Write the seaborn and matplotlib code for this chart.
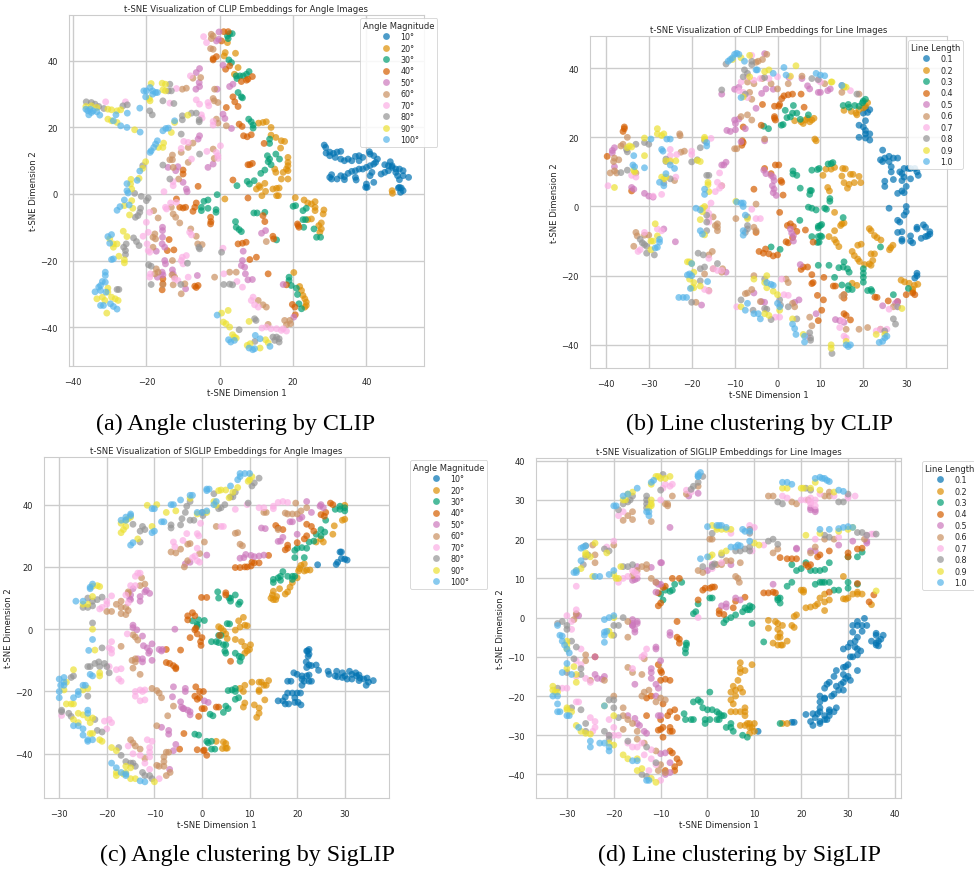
# t-SNE scatter panels
import matplotlib
matplotlib.use('Agg')

import pandas as pd
import seaborn as sns
import matplotlib.pyplot as plt

angle_labels = ['10°', '20°', '30°', '40°', '50°', '60°', '70°', '80°', '90°', '100°']
line_labels = ['0.1', '0.2', '0.3', '0.4', '0.5', '0.6', '0.7', '0.8', '0.9', '1.0']

# (a) CLIP angle
a_10 = [(28.5,14.7),(28.9,14),(29,12.3),(30,12.6),(31,12.2),(32,12.6),(33,12.8),(30,11.5),(31.5,11),(33,10.5),(34,10),(35,10.5),(36,10),(37,11.3),(38,11.5),(39,11),(38,10),(40.8,12.7),(41,12),(42,11.5),(43,10.5),(42.5,9.5),(42,9),(41,8.5),(40,8),(39,7.5),(38,7.5),(37,7),(36,6.8),(35,6.2),(37,5),(37.2,4.2),(33,5.5),(34,5.2),(32,4.5),(30,5),(30.5,5.8),(30.5,4.5),(34,4.3),(39.8,2),(40,3),(40.2,2),(42,3.5),(41,5.5),(41.5,6.5),(44,6),(45,6.5),(46,7),(45,8.8),(46,8.5),(47,8.5),(46.5,9.7),(47,8),(48,7.5),(49,7.5),(50,7),(48,6.5),(48.5,5.5),(50,5.5),(51.5,5),(49,4.3),(48.7,1.8),(49.5,1.8),(50,1),(49.3,0.5),(49,2)]
a_20 = [(2.1,45.5),(1.5,42.5),(1.2,41.5),(4.3,42.3),(5,38),(4,36),(10.6,21.3),(11.8,21.5),(12.7,21.7),(14,20),(14,17.7),(15.3,17),(16.8,16),(17.7,15.8),(16.6,13.8),(18.6,11),(18.6,9.5),(18.6,8.5),(18.2,7.5),(17.3,6.5),(18.6,7),(16.8,4.5),(18.6,4.5),(15,7.5),(15.3,6.5),(12.3,3.2),(10.7,2.5),(10,1.5),(11,2),(12.5,0.8),(11.5,-0.5),(14.5,1.5),(15.5,1.7),(16.2,1.8),(15.5,-0.5),(16,-0.5),(1.4,-1.5),(20.6,-1.1),(23,-1.8),(24,-2.7),(25,-3),(26,-2.3),(26,-4),(26,-5),(28.4,-4.8),(28.2,-6),(27.7,-8.7),(27,-9.5),(27.7,-10.5),(27.3,-11.5),(25,-7.5),(24,-7.7),(21.8,-27.8),(22.3,-29),(22.7,-30.5),(23.2,-31.5),(23.6,-32.5),(23.6,-33.5),(23.2,-34),(20.2,-23.6),(47,1),(47.1,0.2)]
a_30 = [(2.7,48.2),(2.1,47.5),(3.4,48.2),(2.3,46.7),(2.5,40.3),(3.2,39.5),(4.5,35.5),(4.7,34.7),(5.5,35.5),(6.4,35.5),(7.3,36),(8,36.8),(5,30.5),(5.9,29.2),(6.2,28.9),(7.9,22.5),(8.6,21.7),(9.1,20.7),(9.1,19.8),(13.6,16.5),(13.6,15.2),(13,11.5),(13.6,10.5),(13.2,9.7),(14,8.8),(15.3,12),(16.3,10.5),(12.3,7.2),(11.2,6.2),(4.7,2.5),(7.5,3.8),(8.1,3),(9.4,4),(-0.7,-0.2),(-3.2,-1.8),(-4.3,-2.2),(-5,-4),(-5,-5),(-3.2,-4.3),(-1,-4.7),(-1,-5.5),(4.3,-8.3),(4.5,-10),(5.3,-10.7),(5.9,-11.3),(9.3,-5.7),(10.2,-5.7),(12.3,-5.5),(15.5,-13.8),(20,-3.7),(20.7,-3.5),(22.7,-5),(23.6,-4.3),(22.7,-7.7),(23.4,-7.7),(22.9,-10),(25.7,-10.5),(26.4,-13),(27.5,-13),(18.9,-25),(18.9,-26),(19.5,-27.5),(20.9,-28.3),(21.2,-30.2),(21.6,-33),(22.3,-34.5)]
a_40 = [(1.1,48.8),(2.3,48.8),(0.5,46),(-1.8,40.3),(-0.9,41.3),(-1.8,40.7),(1.6,37.5),(2.7,38.5),(5.9,33.8),(7.3,34.2),(8.9,35.3),(7.7,34.5),(3.6,29.2),(4.1,27.7),(5,26.3),(1.8,26),(5.3,21),(6.1,20.3),(6.5,17.5),(7.5,17.2),(8.6,17.8),(12.1,15.2),(7.7,8.8),(8.2,8.8),(8.9,9.2),(3.6,4.2),(-5.9,2.3),(-10,7.2),(-10,6),(-10.9,-4),(-10,-4.2),(-9.3,-4),(-11.8,-1.5),(-7.3,-5.2),(-6.8,-4),(-6.4,-2.7),(-2.5,-7),(-2.5,-9),(-2.4,-8.3),(7.7,-1.2),(11.8,-6.5),(12.3,-8.3),(14.5,-12.7),(14.7,-13.5),(5,-15),(6.2,-14.8),(7.2,-14.5),(-13.8,-13.7),(-14.3,-17),(-12.5,-16.8),(8.2,-19.7),(10,-19),(13.2,-24),(-15.5,-25.5),(-15.5,-27),(-15.7,-28.8),(-6.8,-27.7),(-5.9,-27.5),(-6.4,-28.1),(18.2,-27.3),(19.8,-33.2),(20.5,-34),(20.6,-36.3),(21.4,-9.5),(21.2,-9),(21.6,-10)]
a_50 = [(-0.2,48.7),(-0.9,46),(-0.3,46.5),(-5.5,37.7),(-6.4,36.5),(-5.6,33.5),(-5.5,32.3),(-6.5,31.5),(-0.7,31.5),(0.9,38.7),(2.7,32.3),(3.6,33),(0.9,24),(1.4,22.7),(3.2,19.7),(-5.5,17.5),(-5.9,16.5),(-14.1,8),(-11.4,8.2),(-12,7),(-10,3.5),(-9.1,1.5),(-8.9,0.7),(-1.8,9),(-3.2,8),(-15.6,-10),(-15.6,-11),(-15.6,-13),(-15.7,-15),(-15,-16),(-17.3,-17.2),(-15,-20),(-14.8,-21),(-15.7,-23.5),(-15.5,-24.3),(-12.9,-22.8),(-12.7,-24),(-6.1,-24.5),(-9.3,-28.5),(6.4,-17.2),(6.2,-20),(5.9,-21.5),(6.8,-22),(7,-24),(7.7,-25.8),(8.9,-25.7),(11.4,-11.8),(12.5,-11),(17.3,-27.2),(20.2,-37),(-17,-25)]
a_60 = [(-2.3,48),(-1.8,47.5),(-2.3,46.7),(-2.5,43.7),(-1.8,43.5),(-1.4,31.5),(-1.8,28.7),(-1.5,28),(-0.5,27.5),(-10.2,31.5),(-9.1,31.8),(-7.3,34.8),(-5.2,35),(-0.9,22.5),(-0.5,21.3),(1.8,20.5),(-1.8,13.5),(-1.5,10.7),(-7.3,15.3),(-8.6,14),(-10.5,12.5),(-12.9,11.7),(-12.9,10.3),(-13.6,10.3),(-12.7,8),(-8.6,9.5),(-11.2,4.5),(-18,-5),(-16.8,-7.2),(-13.2,-4),(-12.7,-6),(-12,-7),(-10.9,-8.7),(-7.9,-10.5),(-6.4,-12.7),(-6,-15),(-4.8,-15.2),(-17.7,-12),(-18.2,-13),(-17.5,-13.5),(-18.2,-16),(-12.9,-20),(-17.3,-22.5),(-16.8,-23.5),(-17.7,-24),(-13,-24.3),(-12.3,-25),(-12.7,-27.3),(-9.5,-27),(-10.5,-30),(-15.5,-27.3),(-1.4,-25),(2.7,-23.5),(4.5,-23.5),(10.5,-32),(11.8,-33.3),(12.7,-34),(13.2,-39.2),(17.7,-38),(19.1,-38),(18.2,-39.3),(19.3,-39),(12.7,-14.3)]
a_70 = [(-4.4,47.3),(-3.6,45.5),(-8,35.5),(-6.4,28.3),(-5.5,27),(-3.2,27.5),(-3,26.5),(-31.1,27.7),(-25.7,27.7),(-11.8,31.7),(-13.6,27.3),(-5,23.8),(-4.8,22.8),(-1.8,21.8),(-1.8,20.7),(-9.8,15.8),(-8.6,15.5),(-10.5,13.7),(-7.7,10.5),(-3.5,12.8),(-0.9,12.5),(0.2,14.5),(-0.5,11.5),(-0.5,10.7),(-15.2,0.7),(-12.7,3.7),(-12.7,2.5),(-13.4,-2.7),(-14.8,-4),(-14.5,-4.5),(-11.8,-2.5),(-19.1,-5.5),(-20,-8.5),(-19.5,-11.5),(-20.9,-12.7),(-19.8,-15),(-19.5,-17),(-19.1,-17.5),(-8.2,-11.5),(-7.7,-12.3),(0.9,-16.3),(-10.2,-19),(-9.1,-18.5),(-10.5,-20),(-10,-21),(-18.9,-24),(-19.1,-25),(-12.3,-25.5),(-11.4,-26),(-8.6,-25),(1.1,-24),(4.7,-26.3),(6.2,-28),(9.1,-31),(8.6,-32),(9.5,-33.3),(10.5,-34),(11.5,-40.3),(12.7,-40),(14,-40.5),(15.5,-40.5),(16.8,-41),(18.2,-41.2),(17.3,-40.5)]
a_80 = [(-36.4,27.7),(-35,27.5),(-34,27),(-33,26.3),(-31.6,25.7),(-26.4,26.5),(-25.2,26.8),(-19.1,25),(-18.4,23.8),(-13.6,33),(-14,31),(-13.2,31),(-15.5,28),(-12.5,27.2),(-10.2,23.5),(-10.2,22.3),(-7.7,24.3),(-6.4,24.3),(-5.6,22.3),(-5.6,21.7),(-10.5,18),(-5.5,12),(-15.5,8.7),(-13.6,4.5),(-21,8.5),(-23.2,0.2),(-21.4,-0.7),(-19.5,-1.2),(-20,-2),(-21.6,-4.3),(-21.8,-5.5),(-23,-7),(-22.3,-6.5),(-23.5,-13.2),(-22.7,-14.3),(-22,-15.5),(-25.5,-15),(-26.2,-16),(-25.7,-17),(-25.7,-18.2),(-19.4,-21.3),(-18.7,-21.7),(-18.7,-27.2),(-8.8,-20.8),(-5.5,-16.5),(-5.7,-16),(0.5,-17.5),(1.1,-27.2),(2.7,-27.1),(3.5,-27.3),(-28,-28.7),(-27.5,-28.7),(5.3,-40.8),(9.5,-37.5),(9.9,-38),(9.6,-44.3),(14.5,-43),(15.5,-43),(16.2,-43.5),(15,-44),(16.2,-44.5),(-10.6,-27.2)]
a_90 = [(-18.7,33.2),(-15.7,33.3),(-14.8,33),(-15.5,31.3),(-14.8,31),(-19,28),(-19.2,28.7),(-36.5,26.3),(-35,26.5),(-33.5,26),(-30.5,25.5),(-29.5,25.3),(-28,25),(-27,25.3),(-30.5,22.5),(-29.5,22),(-28,21.5),(-23.2,19.3),(-13.2,18.5),(-12.3,21.5),(-8.7,23.7),(-16.7,14),(-15.5,14),(-15.3,15.3),(-20.2,9.7),(-21,7.7),(-24.2,4.4),(-24.3,3),(-24,1.5),(-22,4.7),(-26,-3.5),(-24,-2),(-23.7,-4.3),(-24.6,-6.3),(-26.3,-11.2),(-25.3,-12.8),(-30,-13.5),(-29,-15),(-28,-15),(-29,-16),(-27.5,-18.7),(-26,-19.8),(-26,-20.7),(-30.5,-28.3),(-30.5,-29.5),(-33.5,-31.5),(-32,-31),(-31.3,-32),(-29.5,-31),(-28.5,-31.5),(-27.7,-32),(-30.8,-35.8),(2.3,-35),(0.5,-35.8),(1,-38.5),(1.7,-39),(2.7,-40),(3.5,-42.3),(4,-43),(4.5,-43.3),(8,-38.3),(7.5,-45.5),(8.3,-45),(11,-46.3),(12.5,-43.8),(13.2,-44.7)]
a_100 = [(-20.7,31),(-20,31),(-19,32),(-18.3,31),(-17.5,30.5),(-20.2,29.2),(-18.3,30),(-17,30.5),(-36.5,25.5),(-36,25),(-35.3,25.5),(-35,24.5),(-34.5,25),(-33.5,24.7),(-32.7,23.7),(-35.7,23.8),(-28.3,23.8),(-25.2,24.3),(-21.8,25.8),(-29,22),(-27,20.5),(-25.3,20),(-21.7,18.6),(-15.5,19),(-14.7,19.7),(-14,19.8),(-12.3,22),(-17,16),(-17.5,15),(-18,14),(-18.7,13),(-19,12.5),(-21.8,6.9),(-22.5,4.1),(-25.3,3.1),(-25.3,1),(-25,0.3),(-26,-1.8),(-24.7,-3.3),(-27.2,-3.8),(-28,-4.9),(-30.5,-12.8),(-29.5,-12.2),(-30,-14.8),(-29.5,-19.7),(-29,-19.5),(-31.2,-23.5),(-31.2,-24.5),(-32,-26.3),(-31.2,-26.5),(-32.5,-27.5),(-33,-28),(-34,-29.4),(-32.5,-29),(-31,-29.5),(-32.5,-33.5),(-31.7,-33.5),(-29.8,-33),(-29,-33.8),(-28,-34.6),(-0.7,-36.4),(2.4,-43.8),(3,-44.5),(4,-44),(8,-46.3),(9,-46.8),(9.5,-46.5),(9.7,-42.5),(11,-43.5),(13.7,-45.8)]

# (b) CLIP line
b_10 = [(20.5,28.5),(21.5,28),(20,27),(21,27.2),(20.5,24.8),(19,23.5),(20,23),(20.5,22),(20.5,21),(21.5,21),(19,20),(20.5,19.8),(21.5,19.2),(24.5,16.3),(25,14),(24,13.5),(24.5,13),(26,14.5),(27,14),(28,14),(26,13),(26.5,11.5),(26.5,10),(28.5,10),(29,9.5),(29.5,11),(30.5,11),(31,11),(32,11),(32.5,10),(29.5,8.5),(31,8),(32.8,9),(29,7.5),(25,7.3),(25,5.8),(27,7.8),(30,5.8),(29,4.5),(28,3.8),(29.5,4),(26,-0.5),(30,0),(30,-1.5),(29.5,-2.5),(28,-4),(28.5,-4.5),(29,-7.3),(28,-7.5),(29,-9.5),(29,-10),(31,-8.5),(31,-10),(31.5,-10.5),(32.5,-6),(32.5,-6.5),(34,-5.3),(34.5,-6),(35.5,-7.3),(35.5,-8),(34.5,-8.7),(33.5,-9.2),(35,-8.5),(32.5,-20),(32.5,-19.3),(32,-20.7)]
b_20 = [(15.5,27.8),(17.2,27.5),(18.3,27),(18.5,26.5),(19,28),(20,28.5),(21,30),(20.5,29),(4,24.8),(5.5,24.5),(6,24),(6.5,25),(7,25.5),(7.5,24.5),(8,25),(8.5,25.5),(8.7,19.5),(9,19),(10.6,9),(11.3,10.8),(12.5,10.8),(13.3,11.3),(15.2,11),(15.8,10.9),(15,8.8),(17,9.3),(17.6,9.3),(19,8.7),(15.5,6.9),(16.7,6.4),(17.9,6.9),(19.4,6.9),(16.3,5.3),(11.7,5.5),(12.1,4.5),(13.3,-1.7),(15,-5),(14.7,-5.5),(15.5,-4.8),(13.3,-7),(13.3,-9.6),(13.7,-10.4),(14.3,-11.6),(12,-8.7),(18.7,-11.2),(19.5,-10.9),(21.4,-6.4),(21.8,-7),(22.6,-8.4),(23.2,-9),(24.1,-9.7),(26.1,-12.5),(26.4,-11.9),(26.9,-11.2),(17.4,-13),(17.9,-14.2),(18.7,-15.2),(19.1,-15.9),(20.3,-16.8),(21.4,-16.6),(21.8,-13.7),(22.6,-13.7),(22.2,-15.6),(21.8,-17),(28.8,-21.3),(29.6,-21.8),(30.7,-22.2),(31.9,-22.8),(32.7,-22.5),(31.5,-23.9),(17.4,-22.2),(18.5,-22.8),(31.5,-24.6)]
b_30 = [(15.3,29.2),(16.5,29.5),(16.7,28.7),(18,29.2),(19,29),(20,30.5),(20.5,31),(19.8,30),(1.8,27.8),(3.7,29.2),(2.2,25.7),(3,25.9),(3.5,27),(4.5,27),(5.3,25.2),(7.2,26.5),(1.3,23.7),(0.9,23.5),(-3.2,23.2),(-2.1,22.5),(11.8,12.3),(12.5,12.4),(12.9,12.7),(9.7,11),(9.3,10.7),(8,10.5),(3.6,10.3),(3.6,9.4),(4.5,9),(5.3,5.3),(7.6,4.6),(7.9,4.6),(7.5,3.5),(12.2,2.3),(12.2,1.5),(7.2,-0.2),(8,-0.5),(9,-1),(11,-0.5),(11.4,-0.8),(15.3,-3.2),(5.2,-4),(9.5,-5.7),(10,-5.5),(10.3,-5.2),(9.5,-6.2),(8,-8.7),(9.5,-8.7),(10,-8.5),(10.3,-8.7),(9.7,-10.3),(9.3,-10.4),(-1.5,-11.7),(0.6,-12.4),(9.5,-17),(12,-17),(14.3,-17.7),(15.3,-17.5),(15.5,-16),(16.3,-18),(16.7,-19),(20,-18),(20,-19.3),(20,-20.5),(20,-21.9),(13.3,-20.5),(15,-22.7),(16.5,-22.9),(16.5,-24),(17.4,-24),(21,-24.3),(21.8,-24),(22,-24.5),(27,-25.5),(30.5,-23.7),(24,-11.7)]
b_40 = [(-35.7,23),(-35.7,22.5),(-36,21.7),(-39.7,14.5),(-34,4.5),(-5.5,5),(0.3,29),(-0.7,29),(0.5,29.5),(-3.5,29.5),(1,31.2),(1.5,32),(2.5,32.3),(3.5,32.5),(5.5,32.5),(6.2,28.7),(-0.7,25.5),(-0.5,25),(-0.7,26),(-3.8,23.5),(-8,23),(-8.2,19),(-8,18.5),(-8.3,17.7),(-0.5,12),(0.3,12),(-3,11),(-1.5,9.5),(0.8,7.5),(1,7),(1.3,3.3),(0.5,-1.7),(-5,-7.5),(2.3,-5.5),(3,-5),(3.7,-5.8),(6.5,-6.8),(4.5,-7.2),(2,-10.2),(2.5,-10.5),(3.5,-9),(8.3,-10.3),(-4.3,-13),(-2.8,-12.3),(-3.3,-13.5),(-2,-13.7),(-1,-14.3),(0,-14),(6,-17.5),(7,-17.5),(5.5,-18.2),(8,-19.7),(8.3,-22),(8,-22.3),(10.8,-20.5),(13,-23),(13.5,-23),(9.3,-25.7),(10.7,-27),(10.3,-30),(15.5,-31),(16,-31.5),(17,-32.8),(9.5,-33),(15.5,-25.5),(15.5,-26.5),(23.2,-26.3),(22.7,-26.2),(25.8,-27.3),(28,-27.5),(30,-25.5),(31.5,-25),(32,-25.5)]
b_50 = [(-3,44.2),(-9,34.5),(-10,33.9),(-13,32.5),(-1,33.9),(-3.7,32.7),(-2.7,34),(2.7,37.3),(5.7,37),(7,34.9),(7.5,34),(9.5,33),(10,33),(11.7,33.5),(12.3,34),(-5,28.4),(-10,25),(-9,25.3),(-9.8,24),(-11.8,22),(-11,21.7),(-9.8,22.2),(-7.5,22.5),(-8.5,18.7),(-3,19),(-3.2,10.5),(-2.7,9.5),(-1.5,9),(-1,8.5),(-0.8,7.5),(-1.2,6),(-0.8,5),(-1,4),(-0.3,3.2),(-13,12),(-12.5,12),(-12,12.8),(-38.5,16.2),(-38,17),(-38.5,15.5),(-38,11.5),(-34,5.5),(-33.5,5),(-31,3.8),(-30,3),(-29,2.7),(-23.8,-10.2),(-26.5,-6.5),(3,-6.5),(3.3,-7.7),(3.7,-8.5),(3.7,-10),(5.3,-16.8),(5,-27),(9,-31),(13.5,-32.7),(14.5,-33),(15.5,-33.5),(-5.5,-25),(-3.7,-27.5),(4,-27.7),(27.5,-28),(28,-27.5),(24.5,-28.7),(-17.7,-28.5),(-12,-19),(-3,-27.7)]
b_60 = [(-2.5,44),(-3.5,42.5),(-4.5,42),(-5,41.7),(-5.5,35.5),(-3.5,37),(-7,36),(-1.5,35.5),(0,34),(2.5,35.5),(5.7,37.7),(11,35.5),(15,33),(15.5,34.5),(19,32.5),(-6.5,33),(-6,31),(-8.5,26),(-7,26.5),(-6,25),(-3,19.5),(-9.5,16.7),(-10,16.7),(-22.8,21),(-22.7,20.5),(-21.7,16),(-22.5,15.7),(-38,14),(-38.2,13),(-37,13.5),(-36,18),(-36.5,17.5),(-35,20),(-39,9.7),(-38,10.3),(-37.5,9.7),(-33,9.7),(-24,7.5),(-13,6),(-15,-3),(-14,-5),(-14,-6),(-14.5,-5.5),(-14,-7),(-5,0.7),(-9.7,-3.5),(-5.5,-6),(-5,-7),(-33,-7.5),(-32.7,-8.5),(-31,-8.3),(-30,-8.3),(-33.5,-11.5),(-15.2,-13),(-16,-14),(-17,-19.5),(-15,-18),(-13,-19),(-12.8,-18),(-5.5,-20),(-7,-25),(-6,-24),(-7.5,-25.2),(-4,-27.5),(2,-21),(2.5,-22),(3.5,-28),(4,-29),(7.5,-32),(8,-34.5),(15,-26),(15.5,-25.5),(16,-35.5),(19,-35.5),(21,-35),(24,-35.5),(27,-29),(-16,-24.3),(-19,-27.7)]
b_70 = [(-6,43.7),(-8.5,36),(-7,37.5),(-5.5,36.5),(-4,37),(-2,37),(-8,33),(-9,33.5),(0,37.5),(3,37.5),(9.5,36.5),(10,36),(17,33.5),(-7,31.5),(-20,16),(-20,15),(-15.5,19.7),(-13,6),(-14,7),(-13.5,9.7),(-14.5,4.3),(-13.5,5.3),(-15.5,1),(-25,16.5),(-25,14.7),(-23.5,15),(-25,13),(-23.7,8.5),(-27,3.5),(-29,3),(-34,9),(-33,8.5),(-39.5,6),(-16.5,-0.5),(-16,-2),(-16,-3.5),(-16,-4.5),(-6,-0.8),(-5,-3.5),(-4,-3.5),(-28,-6.5),(-27,-7),(-32,-12.5),(-32.5,-13),(-31,-7.5),(-16,-15),(-15,-18),(-14,-18.5),(-13,-18.5),(-17,-24),(-16,-24.5),(1,-21),(1.5,-25.5),(2.5,-25.7),(14.5,-35),(15.5,-37.5),(16,-38),(-0.5,-32),(0.5,-32),(23,-36),(24,-35.5),(25.5,-35.5),(26,-29.7),(28,-29),(7,-37.5),(15,-33),(-9.5,-29)]
b_80 = [(-12,41.2),(-6,42),(-6,41),(-7.7,39.5),(-7,38.5),(-8,37.5),(-3,37.3),(-13,33.7),(-7.5,32.5),(8,37),(9.5,36.7),(15,35),(18.5,32.5),(-31,18.5),(-30,18),(-33,18),(-35,15.8),(-35.2,16.5),(-36.5,9.8),(-35,10.5),(-26.5,6.8),(-26,13.7),(-25,8),(-26,13),(-20,12.9),(-18.7,13.5),(-18,17),(-17,19),(-16.5,9),(-16,9),(-16.5,-2.5),(-16.5,-4.5),(-16.5,-7),(-7,-3),(-7,-5.5),(-7,-6.5),(-7.5,-7.5),(-31.5,-10.5),(-31,-11),(-30.5,-11.5),(-32,-9.5),(-30.5,-13.5),(-28.7,-14),(-18.5,-13.5),(-17.3,-14),(-14,-16.5),(-18,-18),(-17,-17.5),(-18,-21.5),(-20,-27.7),(-3,-21),(-8.5,-27),(-5.7,-30),(-3,-29.5),(-2.5,-29.7),(0.5,-27),(0.7,-28.5),(2.5,-29),(-1.5,-32.7),(4.5,-32.5),(7.5,-36.5),(7.7,-38),(7.7,-38.7),(12.7,-42.5),(27,-32.5),(27.5,-34),(28,-29),(25,-36)]
b_90 = [(-10.5,42.5),(-8.5,43),(-6.5,43.7),(-3,39),(-2,39.5),(-6.5,37.5),(4.3,40.7),(3,37.7),(12.5,36),(12.7,36),(15.5,34.7),(16,34.5),(-8,31.7),(-28,22.5),(-28,21),(-27,20.5),(-26.5,21),(-31,19.8),(-35,17),(-34.5,17.5),(-34,17.2),(-26,13.2),(-25,13.2),(-23.7,13.2),(-31,14.7),(-33.5,10.5),(-33.3,10),(-27,8.5),(-26.5,8),(-26,8.5),(-38,5.5),(-17,19.5),(-17,20),(-18.7,13.3),(-18,13),(-16.2,7),(-16.2,6.3),(-16,4.3),(-17,0),(-17.5,-0.5),(-17.5,-1.5),(-18,-3.8),(-17,-8.2),(-9.7,1.5),(-7,-3.5),(-28.5,-5),(-28,-8.5),(-29.5,-10),(-29,-10),(-29.5,-12.5),(-21,-16),(-20.5,-16),(-20,-16.5),(-20.5,-21),(-19.5,-22),(-19.5,-19),(-20,-23.5),(-18,-23),(-19.5,-23.5),(-5.5,-21),(-2.5,-20),(-3,-22),(-2.5,-23.5),(-1,-24.5),(0,-25.5),(-8.5,-29),(-3,-31),(-2,-31.5),(0.5,-30),(3.5,-32.5),(6,-37),(12.5,-40),(12.5,-41),(16,-39),(23,-37),(25,-37),(29,-29.5)]
b_100 = [(-11.5,42),(-11,42.5),(-10.5,43),(-10,44),(-9.5,44.3),(-9,44),(-7.7,42),(-8.5,31.5),(-5,39.5),(-4.7,39.5),(-1,38.5),(1.5,40.2),(2,38),(9,38.5),(10,38),(11,37.8),(15,35),(-16.5,18.5),(-16.5,17.5),(-33.5,14.7),(-33.7,12),(-33.3,11.5),(-31,11.2),(-25.8,19.5),(-25,19.5),(-27,16.5),(-26.7,16),(-25,12),(-24,11),(-26,9.5),(-27.5,7),(-26.5,6),(-17,5),(-17,3.5),(-29.5,19.5),(-19,-0.5),(-18,-1),(-9.5,1.3),(-8.5,1),(-8,0),(-8,1),(-7.5,-2.5),(-18,-7),(-17.5,-8),(-8,-7),(-8,-8.3),(-27.5,-9.5),(-27.5,-10.3),(-28.5,-12),(-28,-11.8),(-20,-16.5),(-21,-19.8),(-20.5,-19.5),(-20,-20),(-20.3,-23.7),(-16.3,-21.7),(-23,-26.3),(-22,-26.3),(-21.2,-26.3),(-2.5,-22),(-1.5,-22.5),(-1,-22.8),(-7,-28),(-7.5,-30),(-5.5,-31),(-4.5,-31),(-4,-32.5),(0,-28),(0.5,-29),(3.5,-34),(4,-35.3),(4.3,-37),(6.3,-37.5),(6.3,-39.2),(16,-40),(16.5,-40.5),(17,-40),(23.7,-39.3),(24.5,-39),(25,-38),(25.5,-37.5)]

# (c) SigLIP angle
c_10 = [(29,24.8),(29.3,24.8),(29.3,22.7),(28.5,21.5),(28.2,20.8),(30,22.5),(30.5,22.2),(22.5,-6.5),(22.2,-7),(22,-7),(22.5,-8),(22.3,-8.7),(21.9,-10.5),(22.5,-11.5),(22,-12.3),(23,-11.7),(24,-11.5),(24.5,-13.2),(26.5,-13.5),(26.7,-14.5),(28.3,-13.5),(28,-15),(29.5,-14),(30,-15),(31,-13.5),(31.5,-14.5),(32.3,-14),(32.5,-15),(33,-14.7),(33.2,-15.7),(31.5,-16),(30.5,-16),(29.5,-15.5),(28.5,-15.3),(33,-16.5),(34,-16),(34.7,-15.7),(35,-17),(36,-16.5),(34.5,-18),(19.3,-14),(20,-14.5),(21,-15),(22,-15),(22.5,-14.7),(21,-16),(21.5,-16.7),(22.5,-16.7),(23,-16.7),(18,-16.7),(18.7,-16.7),(21,-18),(20,-20.5),(18,-20.5),(19,-20.5),(20.7,-20.5),(17.5,-21.8),(19.5,-22),(16,-23),(17,-23),(17.5,-24),(18.2,-24),(19.5,-23.5),(20.2,-23.5),(20.8,-24.3),(24.3,20.7)]
c_20 = [(30,39.8),(29.5,35),(30,35.3),(27.8,33.2),(27.5,30.5),(25,29),(24,28),(25.5,28),(20.8,20.5),(21.5,21),(20.5,19.5),(21.5,18.7),(22,19),(22.7,19),(20.3,18.7),(20,16.5),(19,15),(18.5,13.5),(18,12),(17.5,11.3),(16.3,13),(15,12.2),(14.8,11),(14.5,10),(15,9.5),(15.5,9.5),(15.7,10.5),(3.5,0.8),(4,0.3),(4.5,-0.5),(5,-1.5),(5.3,-3),(7,-3.3),(7,-0.3),(8,0.7),(7.7,2.7),(8.7,3.8),(9,1.3),(9.5,1.1),(8.3,-4),(9,-5.5),(10.2,-5),(9.5,-7),(10,-6.5),(9,-7.7),(3,-36),(4.5,-36.2),(5,-36.7),(5,-38.2),(4.3,-38.3),(5.3,-38.2),(12,-17),(10.5,-17),(12.5,-17),(9,-18),(8,-19),(8.7,-20),(12,-20),(12,-19.5),(13,-18),(14,-16.5),(13.5,-18),(13.2,-22.7),(11,-24.3),(12,-25.3),(9,-23.7),(8.7,-25),(11.5,-28.3),(12,-27)]
c_30 = [(28,38.5),(29,38.5),(29,39.5),(30,39),(30,38),(26,35),(25,32),(25.8,31.2),(25,30),(24,30.5),(23.5,28.3),(22.5,28),(19.5,25.3),(20,26),(21,26.2),(22,26),(19.5,23),(21.5,23),(15,16),(15,15),(16,16.5),(16.5,17),(17,18.5),(16.5,15.7),(18,17),(19,17),(19,16),(19.5,17),(3.3,12),(3.5,10),(6,10),(6,9),(7,11),(5.7,10),(7.7,8),(8,8.7),(-2,2.7),(-0.7,3),(0.5,2.8),(-1,1.5),(-1,1),(5.3,1.8),(5.8,1.7),(3.5,-2),(4,-2),(2,-4),(3,-4),(3.5,-4.3),(4.5,-5),(5,-5),(4.8,-7),(5,-7.7),(7,-7.7),(7.8,-8.7),(8.3,-9),(8,-10.3),(5.5,-19.7),(6.3,-19.5),(7,-19),(7,-20),(7,-22.5),(7.7,-22),(5,-24.7),(5.5,-25.5),(4.5,-26.7),(1.7,-27.3),(2.3,-27.8),(1,-36),(1.3,-36.5),(-1.5,-33.7),(-0.7,-34),(2,-38.5),(2.7,-38.5),(2,-36)]
c_40 = [(27,40.5),(27.5,40),(25,36.8),(25.7,36.3),(26,37.5),(22,33.7),(23,33),(23.5,31.5),(22,30),(21.5,29),(15.5,33.3),(16,32.5),(17,32),(18,27),(18,26),(17.5,25.5),(20,27.8),(7,19.8),(8,19.8),(9,20),(9.5,20),(10.3,20.3),(10.5,21.5),(11,21.3),(12,21.3),(14,23.7),(-0.1,10.2),(1,10.2),(3.7,-2),(5,11.7),(5,11),(-2,5.3),(-3,4.3),(-1.5,4.3),(-3,3),(-1.3,0.3),(-1.5,-0.2),(-1,-1.5),(-2.5,-2.7),(0,-2.7),(-0.3,-4),(-0.2,-5.2),(-4.5,-6.7),(-7.5,-10.7),(-6.8,-11),(-6,-11.7),(-5.5,-12.3),(-5.5,-12.7),(-7.5,-6.5),(6,-10.3),(-1.3,-18.5),(-0.5,-20),(0.3,-20),(-1.5,-21.5),(-1,-22.5),(0,-25.5),(-0.7,-28),(0.5,-25.5),(3,-25),(3.5,-25),(-3.8,-33.5),(-4.7,-38.5),(-1,-38.7),(0.3,-39),(0.5,-38.8),(1,-40.5),(-0.5,-22)]
c_50 = [(22,41),(25,40),(24.8,39.5),(25.5,39),(23,37.5),(20.5,35.5),(21,36),(18.5,34.5),(19,34.5),(12.5,32.5),(13.3,32.3),(17,29.5),(16.5,28.3),(20,30.5),(16,28.2),(8,22.8),(8.8,23),(9.2,24),(10.3,23.7),(11,23.3),(12,23.5),(13,23.8),(1,23.8),(-3.5,21),(-2.5,21.5),(-5.7,-0),(-14.5,1.3),(-14.5,0.5),(-13.7,-0.2),(-12.5,-2.2),(-12.3,-5.3),(-11.5,-6),(-11,-7),(-11.2,-7.7),(-10.5,-4.7),(-9,-6.5),(-8.5,-7),(-8.3,-6.5),(-12.5,-9.5),(-10.5,-10),(-13.5,-9.5),(-12.5,-10.5),(-14.5,13),(-15,11),(-15.2,9.8),(-15,9.5),(-13,9),(-13,10.5),(-12,12),(-11.7,12.5),(-11,11.5),(-6,-18.5),(-3.5,-19),(-3.5,-20),(-6.2,-21.7),(-4.5,-23.3),(-4.3,-25),(-3.8,-25.5),(-3,-26),(-2.5,-26.5),(-2.5,-27.5),(-4,-25.5),(0.5,-23),(1.3,-23.5),(-8.5,-31.5),(-7,-32.5),(-7,-33.7),(-5.5,-37),(-6,-39),(-6.8,-45)]
c_60 = [(19.7,40.5),(20.8,38),(22,39),(20,37),(19,37),(18,37),(17.5,37.3),(16,32),(13.5,37.5),(13,37.5),(3,33),(7,30.8),(7.5,31),(8,27.3),(8.5,26.8),(0.5,28),(-0.5,24.3),(-3,27.3),(-2.5,27.5),(-4.5,25.7),(-5.5,24.5),(-6.5,24.8),(-3,22),(-3.7,20),(-12.7,16.5),(-12,14.5),(-13,14),(-15.5,12),(-15.5,11.5),(-17,9),(-16,7),(-15.5,6),(-17,5),(-17,7),(-16,4.7),(-20,5.7),(-19,5.7),(-18,8),(-14.5,-1.8),(-14,-2.5),(-13.5,-3.5),(-17,-5.5),(-14,-9.5),(-14.7,-10),(-14,-10.5),(-14.5,-12.5),(-13,-14.5),(-10.5,-19),(-9.5,-19.7),(-9,-20.5),(-8.5,-22),(-6,-24.7),(-7.2,-27.8),(-9.5,-31),(-15,-35.5),(-14.5,-36.5),(-14,-37.5),(-13,-38.5),(-12,-41.5),(-7.5,-39.5),(-7,-39.5),(-8,-41),(-8,-42.5),(-8,-44),(-9,-44),(-9.5,-43.7),(-6.7,-46),(-7.5,-47)]
c_70 = [(16,40.7),(17,41),(18,40.7),(15,39.5),(15,38.7),(12,39),(13,39),(7,38.5),(9.5,40),(4,33),(4.5,33),(-0.3,34),(-1,30.7),(-0.7,30),(-3.2,30.7),(-6,28),(-5.7,26.5),(-4,28.5),(-1,26),(-1.5,23.5),(-1,22),(-2,23),(-0.5,21.5),(-14,17),(-13,18),(-13.5,18),(-15,14),(-14,14),(-16,11),(-15.5,8.5),(-19,10.7),(-20,9),(-20,8),(-21.5,6.5),(-21,7),(-15.7,-1.5),(-19,-4),(-19.5,-6),(-19,-6.5),(-19,-7.7),(-18,-13),(-19.5,-12),(-17,-12.7),(-17.5,-16),(-17,-16.7),(-14,-20),(-13,-19.5),(-12,-19.5),(-12.5,-20),(-14,-21.5),(-13,-23),(-12,-22.7),(-20.5,-29.5),(-19.5,-29),(-19,-30),(-20,-32),(-29.5,-27.7),(-15.5,-37.5),(-14.5,-40),(-13,-40.5),(-11.5,-35.5),(-10.5,-36),(-11,-38),(-11,-39.5),(-11,-41),(-12,-43),(-11,-45),(-9,-48)]
c_80 = [(10.5,46),(11,47),(12,48.5),(9.7,40.5),(7,44),(6.5,42.5),(6,42.5),(4.8,40),(4,39),(3.5,38.7),(0.2,36.5),(0.1,37.5),(-2.5,41),(-3.2,39.5),(-3.5,37.5),(-2.5,35),(-1.7,35),(-4.2,35.5),(-4.5,33.5),(-6.5,33.5),(-6.5,32.5),(2.5,43.5),(-12.5,33),(-12,32),(-13,31.5),(-14.5,33.7),(-13,28),(-23,2),(-21,-6),(-21.7,-10.5),(-22.5,-11),(-23.5,-12),(-24,-12),(-21.5,-12),(-20.5,-11),(-20,-12),(-19.5,-14),(-27,-15),(-27.5,-15.5),(-24,-21.5),(-29.5,-26),(-29.5,-26.5),(-28,-27),(-27.5,-28),(-22.5,-29),(-22,-32.5),(-21,-33),(-17.5,-38),(-17,-40.5),(-16,-42.5),(-15,-43),(-14.5,-43),(-14,-44),(-12.5,-46),(-12,-47),(-11,-47),(-10.5,-48),(-25,7),(-24,7),(-23,9),(-22,9.5),(-21,10.3),(-24,10),(-23,7.5)]
c_90 = [(10.5,49),(10,48),(9.7,47.5),(7.5,45.5),(6.5,44),(5,44.7),(4,44.7),(3.5,44.5),(5.7,42.2),(2.5,41),(3,39.8),(1,37.5),(-1,37),(-2.5,42),(-11.5,39.8),(-9.5,40),(-7.5,37.5),(-5.5,38),(-17,34),(-16,35),(-15.5,35.5),(-15,36),(-16,33),(-16.5,32),(-17,31),(-13.5,29),(-10.5,33),(-23,0),(-22.5,-6.7),(-27,-13),(-21.5,-14),(-21.5,-15),(-28.5,-17),(-29,-19.5),(-25,-19.5),(-24,-19),(-27.5,-24),(-27,-24),(-28.5,-24),(-26,-27),(-25,-27.5),(-24,-28.5),(-23,-28.5),(-27,-29),(-26,-30),(-23.5,-30),(-23,-33.5),(-23.5,-33.5),(-21.5,-35.5),(-21,-36),(-19,-38),(-18,-39),(-16.5,-46.5),(-18,-46),(-18,-47),(-16,-44),(-15,-44.5),(-15,-48),(-14,-48),(-16,-46),(-10,-49),(-25,8),(-24,8),(-23,10.5),(-23,13.8),(-22,14),(-21.5,13.7)]
c_100 = [(8,50),(9,50),(10,50),(8,49),(7.5,48),(6,46),(1,44.5),(1,45),(1.5,45),(-2,43),(-2.5,43),(-4.5,41.5),(-6,40),(-6.5,40),(-10,38.7),(-10.5,38.7),(-1,37.5),(0,37.5),(1,38),(2.5,40),(3,41),(-8,34.5),(-8.5,34.5),(-17,35),(-16,36),(-15,37),(-15,36.5),(-16,35),(-14.5,27.8),(-15,27),(-10.5,31),(-10,31.5),(-23,-3.3),(-23.8,-6.8),(-23.5,-14.5),(-23,-15),(-30,-16),(-29,-15.5),(-29,-17),(-29.7,-18),(-29,-18),(-30,-20),(-30,-22),(-25,-18),(-24.5,-18),(-26,-20),(-26,-21),(-27,-22),(-24,-26),(-24,-27),(-27,-31),(-26,-31),(-25,-32),(-25,-34),(-24,-35.5),(-23,-35.5),(-24,-36),(-19,-43),(-18,-44.5),(-17,-46),(-16,-46.5),(-16,-47),(-13,-48.7),(-12,-49),(-25,9),(-26.5,9),(-23.5,13),(-23.5,13.5),(-23,14.5)]

# (d) SigLIP line
d_10 = [(33.5,-0.2),(32,-1),(31,-2),(32,-2),(33,-2),(34,-2),(31,-3.7),(33,-3.5),(32,-5),(31.5,-6),(30.5,-6.5),(30,-7.5),(29,-8),(31.5,-7.5),(32,-8),(32.7,-8.5),(32,-9.5),(31,-10),(30.5,-10),(36,-4),(36,-4.5),(37.5,-4.5),(37,-5.5),(36.5,-6),(35,-6),(36,-6.5),(36,-7),(36.5,-7.2),(30,-12),(29.5,-12.5),(27.5,-13.5),(32,-13.5),(29,-14.5),(30,-15),(27,-15),(29.5,-15.5),(29,-16.5),(30.5,-16),(26,-16.5),(25.5,-17),(28.5,-17),(27.5,-17.5),(25,-18),(29,-18.5),(28,-18.5),(27,-19.5),(26.5,-20),(24,-20),(25,-20.5),(25,-20.7),(24,-21.5),(24,-23),(27.5,-23),(26,-23.5),(27,-24),(24,-24),(26,-24),(23.5,-24.5),(22.5,-24.5),(25,-25),(26,-25),(21,-24.7),(23,-25.5),(25,-26),(22,-26.5),(24,-27),(25.5,-26),(22.5,-27.5),(18.5,-26.7),(18,-26.7),(10.8,-29),(24,-26.5),(29,-12.7)]
d_20 = [(29,10.5),(20,7),(20.5,7),(20.5,6.5),(21,2.5),(22,2.7),(23,3),(23.5,3.5),(24,5),(25,6),(25,4),(26,4.5),(25,1.8),(29,4.8),(30,5),(29.5,4.7),(31,6),(32,6.5),(32,6),(33,6),(35,3.3),(19,0.7),(18.5,0.3),(13,-0.7),(14.5,-1),(15,-1.5),(13,-2.7),(15,-3),(16,-2),(18,-2),(18.5,-2.5),(15.5,-4),(15,-5),(15.5,-5),(14,-6.5),(15,-7),(15.7,-7),(16,-7),(17,-6),(7,-11.5),(9.5,-12),(7,-13),(8,-13.5),(7,-14),(6.5,-16),(5.5,-17.5),(6,-18.5),(7,-18),(7.5,-19),(5,-19),(6,-20),(5,-21),(5.5,-22),(8,-23),(5,-24),(6,-24),(7,-24),(8,-24),(8,-25),(7,-27.5),(8,-27.5),(9,-28),(8.5,-27),(9,-27),(9.5,-28),(10,-27),(9,-29.5),(10,-29),(16,-27),(17,-27)]
d_30 = [(15,5),(15.5,5),(15.5,3.7),(15,4.5),(17,8),(18,9),(23,8.5),(24,9),(24.5,9),(25,9),(26,9),(27,7),(28,7),(30,9),(30,7.5),(32,8.5),(20,12.5),(22,12),(23,12),(24,12),(25,12.3),(26,14),(18,13.5),(19,12),(21,14),(30,15.5),(32,15.5),(33,16.7),(-9,7),(-8,6.7),(-7.5,7),(-7,8.5),(-5.5,9),(-10,6),(-9.5,4.5),(1,5),(0.5,5),(-2,3.5),(-3,1),(-2.5,1.5),(9,3),(8,2.5),(8.5,2),(9,2),(9.5,2.7),(7.5,1.5),(6,0.7),(5,0),(4,-0.5),(3.5,-1.3),(9.5,-1.5),(-4.5,-6.5),(-4.5,-7),(-4.7,-8),(-4.7,-9),(12,-6.2),(-5,-24.5),(-4.7,-26),(-3.5,-26),(-3,-26),(-3,-21.5),(-2,-21),(-1.5,-21.5),(-1,-23),(0,-23.5),(1,-23.5),(0.5,-19),(-0.5,-26),(-0.5,-27),(0.5,-26),(2,-24),(2.5,-24.5),(2,-26),(2.5,-26),(3,-25),(3.5,-25),(4,-28),(5,-28),(5,-27),(5.5,-29),(7.5,-30),(8.5,-30.5),(15.5,-27)]
d_40 = [(32,17.5),(33,17.7),(30,16.5),(30,15.5),(24,16),(23.5,15.5),(26,17),(22,13.5),(21.5,13),(32,8.7),(26,6.5),(34.5,4),(35.5,5.8),(17,15),(18,15),(19,15),(21,13.5),(15.5,15.3),(12,6.3),(13,6.3),(14,6.5),(14.5,6.3),(-10.5,6.3),(-10.5,3),(-10,3.7),(-9,8),(-9.5,7.7),(-7.5,10),(-6,10),(-1,7),(-0.5,7.5),(0.5,7.5),(1,7.8),(1.5,7.8),(-2,4.5),(6,4.2),(8,5.2),(2.5,1.8),(2.5,1),(3.5,0.8),(5.5,2.5),(-6.5,-1),(-6.5,-5),(-6,-5.5),(-6,-6.5),(-24,-10),(-10.5,-12),(-10,-13.5),(-9.8,-14),(-10,-16),(-9,-15.7),(-8,-16),(-12,-20),(-13,-20.5),(-13,-25),(-9.5,-22),(-8,-24),(-8.5,-25),(-7,-23.5),(-6.5,-25.5),(-10,-26),(-9.5,-28),(-10,-28.5),(-10.5,-28.7),(-8,-28),(-8,-29),(-7.5,-29),(-9.5,-30.5),(-8,-34),(-7.5,-34.5),(-6.5,-36),(-6,-37),(-7,-38),(-7,-39),(-9,-39)]
d_50 = [(-24,-10),(-2,31.7),(-4,31),(-8,23),(-10,14),(-9.8,14),(-11,9),(-10.5,8.5),(-10,8.5),(-11,6.5),(14,8.5),(0,12),(3,3),(4,3.5),(4,2.7),(6,5),(7,4.5),(-8,-3.8),(-8,-4.5),(-16,-0.5),(-15,-1),(-16,-2),(-15.5,-3),(-15.5,-3.7),(-15,-1.5),(-11,-8),(-11,-7.5),(-10,-11),(-12,-13),(-12,-14),(-12,-15.5),(-11,-17),(-10.5,-18),(-11,-20),(-15.5,-17),(-10.5,-25),(-10,-25),(-17,-25),(-15.5,-25.7),(-15,-27),(-14.5,-27.5),(-13.5,-29),(-13,-29.5),(-10,-34.7),(-9,-34.5),(-8,-37),(-9,-40),(-8,-39.5),(-24,-14.5),(-23.5,-15.5),(-22,-15),(-22.5,-15.7),(-27.5,0.5),(-28,0.7),(-16,-1.5),(-16,9.5),(-15,10),(-15.5,9.7),(-12,12.8),(5,13.5),(-15,13),(1,13.5),(-16,-2),(23,27),(22,27.5),(22,28),(23,27.5),(19,17.5),(19,17.7),(23,17),(22,17),(28,18.5),(31,19.5),(34,19.5),(34,19)]
d_60 = [(-12,24.5),(-18,24.8),(-16,25),(-17,26),(-16,27),(-9,29),(-8.5,28.5),(-7.5,31),(-2,33.5),(-4.5,31.5),(-8.5,29),(13,31),(14,31),(18,29.5),(19,29),(26,31),(26,32),(25,31),(21.5,30),(0.5,20),(1,20),(2,13.5),(3,13.5),(4,14.5),(5,14.5),(7,14),(6,10.5),(6.5,10),(6.8,9),(-2,12),(-1,11.5),(-14,13),(-13,12.5),(-13,13.5),(-15,12),(-16,10.7),(-12,10),(-11,9),(-24,14),(-24,16),(-24.5,18.5),(-20,18.5),(14,16.5),(15,17.5),(22,16.5),(23,18),(27,20),(25,20),(33.5,20),(-28,1),(-28.5,-0.5),(-17,-1),(-17,-5),(-26,-9.5),(-26,-11),(-17,-12.7),(-16,-14),(-14,-14.5),(-13.5,-10.5),(-13.5,-19),(-14,-20),(-12.5,-18.5),(-11,-21.5),(-10,-20.5),(-9,-21),(-18,-23),(-18,-25),(-17,-26),(-16,-27),(-15,-29),(-18,-28.5),(-25,-16),(-22,-16),(-20,-20),(-15,-31),(-13.5,-32),(-11,-34),(-10,-37.5),(-10.5,-39),(-9,-39.5)]
d_70 = [(-19,26),(-18,27),(-10,30),(-9.5,33),(-9,34),(-8,33.5),(-7.5,34),(-4.5,32.5),(-3.5,32),(-20,19.5),(-21.5,18),(-28,8),(-19,9),(-18,10),(-17,10.5),(-15,11),(-15.5,11.5),(-16,12),(16,31),(17,30.5),(20,30),(21,30),(22,29.5),(23,30),(22,29),(22,30.5),(23,28.5),(24,31.5),(27,31),(30,30.5),(30,31),(31.5,31),(-28,2),(-30,0.5),(-29,-1),(-29,-3),(-27,-8),(-28,-11),(-27,-12),(-16,-13),(-14,-10),(-13.5,-9.5),(-13,-8),(-28,-15),(-26,-15.5),(-25,-16.5),(-31,-18),(-30,-18),(-28,-21.5),(-27.5,-21.5),(-25,-25.5),(-24,-26.5),(-24,-28),(-24.5,-29),(-21,-26),(-20,-28),(-21,-30),(-20,-30),(-19,-30),(-17,-32),(-16,-33),(-15,-33),(-14,-32),(-13.5,-35),(-12,-36),(-12,-33.7),(-11,-37.5),(-10,-41.5),(-12.5,-39),(1,12.5),(-2,-0),(3,14),(9.5,17),(12,18.5),(23,20),(28,20.5),(34,21),(35,21.3),(35.5,21.3),(5,21.5),(9,23.5),(10,23)]
d_80 = [(-1,36),(-2,34.5),(-3,33.5),(-3.5,32.7),(-9.5,36.5),(-10,32.5),(-13,31),(-13,30),(-13,29),(-13,28),(-16,31),(-16.5,30),(-17,29.5),(-18,29),(-19,27.5),(-26,18.3),(-25.5,16),(-26,15.5),(-26.5,13.5),(-22,17.5),(-21,17),(-18,13),(-17,13),(-16,13.5),(15,29.5),(16,29),(22,32.5),(21,33),(28,29.5),(29,29.5),(30,31.5),(25,21),(26,20.5),(32,21.7),(33,21.7),(34,21),(36,21.3),(1,13),(1.5,13.7),(-1,13),(3,16),(6,17),(7,17),(8,17.5),(9,18),(9,17),(13,19.5),(14,20),(15,18.7),(1,21.5),(9,22.5),(9,21.5),(-32,-1.5),(-31,-1),(-30,-2),(-30,-3),(-29,-6),(-28,-7.5),(-20,-2),(-19,-2),(-18,0),(-20,-4.5),(-28.5,-10.5),(-27,-13),(-27,-14.5),(-30,-14),(-32,-18),(-29,-23),(-27,-23.5),(-26,-27),(-26,-29),(-22,-29),(-21,-30),(-21,-31),(-20,-21),(-21,-21),(-20,-23),(-19,-25.5),(-17,-31.5),(-13,-33),(-11,-37),(-14,-40),(-13,-40.5)]
d_90 = [(-12,34),(-11,36),(-10.5,36),(-10,35.5),(-9,35.5),(-8,36),(-12,29),(-12,30),(-12,28.5),(-12.5,28),(-18,30),(-17.5,30),(-17,31.5),(-16,32),(2,22.5),(1,23.5),(2,23),(3,22.5),(4,22.5),(5,22.5),(10,19),(11,18.5),(1,16),(0.5,15.5),(3,16.5),(4,17),(16,33),(17,33),(20,33),(20.5,33),(23,34.5),(22,33),(24,32.5),(27,32),(21,21),(24,21.5),(28,22),(30,22.5),(31,23),(-27,12.5),(-28,12),(-25,15.5),(-26,16),(-26,16.5),(-24,19),(-21.5,16.5),(-24.5,10.5),(-19,10),(-20,11),(-18.5,13),(-19.5,10),(36,6.8),(-20,0),(-21,-3.5),(-20.5,-4.5),(-30,-6),(-30,-7),(-30,-8),(-30,-13),(-28.5,-12.5),(-28,-14.5),(-28,-16.5),(-33,-17.5),(-33,-18.5),(-32,-19),(-32.5,-19),(-30,-23),(-30,-23.5),(-29,-24),(-28,-27.5),(-27,-29),(-26,-29.5),(-25,-29.7),(-22,-22.5),(-21,-32),(-20,-32.5),(-20,-25),(-18,-35),(-17,-36),(-15,-36),(-15,-39),(-14,-38.5),(-12,-41),(-11,-42)]
d_100 = [(-2,36.5),(-2,36),(-1.5,37),(-2,36),(-15,33),(-12,34.5),(-11.5,35),(-20,28.5),(-19.5,28.5),(-18,31),(-17,31.5),(-13,27),(-12.5,27),(-12.5,26),(0,23.2),(2,23.5),(2.5,23.5),(3,23.5),(4,23),(7.5,22.5),(8,22),(9,22),(16,34.5),(17,34.5),(18,34),(23,35.5),(24,35.8),(24.5,35.5),(25,35.5),(25.5,35),(26,34.7),(28,32.5),(29,32.2),(24,22.5),(26,22.5),(28,22.7),(29,23),(30,23.2),(31,23),(0,15.5),(-1.5,15),(5,18),(6,18),(6.5,18.5),(7,18.3),(9,19.5),(-27,17.7),(-26.5,18),(-26,18.3),(-27,14.5),(-28,12),(-28,11.5),(-28.5,11.5),(-24,10.5),(-23,10.5),(-21,11),(-20,12),(-32,-2),(-31.5,-4.5),(-31,-4.7),(-31,-6),(-30.5,-7),(-30,-8),(-29.5,-9),(-21,-0),(-20,0.5),(-22,-0.5),(-22,-3.7),(-22,-4.5),(-22,-6.3),(-21.5,-3.5),(-30,-11.7),(-31,-14),(-29,-14.5),(-33,-20),(-32,-20),(-32,-22),(-32,-24),(-31.5,-24),(-30,-25),(-29.5,-25),(-27.5,-28),(-25,-31.5),(-25,-33),(-23,-32),(-22,-32),(-21,-33),(-21,-34),(-22,-22.5),(-16,-36.5),(-15,-36.5),(-13,-41.5),(-12.5,-41.5)]

clip_angle = [a_10, a_20, a_30, a_40, a_50, a_60, a_70, a_80, a_90, a_100]
clip_line = [b_10, b_20, b_30, b_40, b_50, b_60, b_70, b_80, b_90, b_100]
siglip_angle = [c_10, c_20, c_30, c_40, c_50, c_60, c_70, c_80, c_90, c_100]
siglip_line = [d_10, d_20, d_30, d_40, d_50, d_60, d_70, d_80, d_90, d_100]


def make_frame(groups, labels):
    """Long table with one row per point"""
    rows = []
    for lab, pts in zip(labels, groups):
        rows += [(x, y, lab) for x, y in pts]
    return pd.DataFrame(rows, columns=['x', 'y', 'label'])


def draw_panel(fig, box, groups, labels, title, legend_title, xlim, ylim, xticks, yticks, legend_xy, caption, caption_x):
    """box is left, top, right, bottom in pixels of the figure"""
    w, h = fig.get_size_inches() * fig.dpi
    l, t, r, b = box
    ax = fig.add_axes([l / w, 1 - b / h, (r - l) / w, (b - t) / h])
    df = make_frame(groups, labels)
    sns.scatterplot(data=df, x='x', y='y', hue='label', hue_order=labels, palette='colorblind',
                    s=24, alpha=0.7, linewidth=0, ax=ax)
    ax.set_xlim(xlim)
    ax.set_ylim(ylim)
    ax.set_xticks(xticks)
    ax.set_yticks(yticks)
    ax.set_xlabel('t-SNE Dimension 1', fontsize=6.1, labelpad=1.5)
    ax.set_ylabel('t-SNE Dimension 2', fontsize=6.1, labelpad=1.5)
    ax.set_title(title, fontsize=6.1, pad=3)
    ax.tick_params(labelsize=6, pad=2)
    for spine in ax.spines.values():
        spine.set_linewidth(0.8)
    leg = ax.legend(title=legend_title, fontsize=5.8, title_fontsize=6.0, loc='upper left',
                    bbox_to_anchor=(legend_xy[0] / w, 1 - legend_xy[1] / h),
                    bbox_transform=fig.transFigure, borderaxespad=0, labelspacing=0.3,
                    markerscale=1.0, framealpha=0.85, borderpad=0.35)
    leg.get_frame().set_linewidth(0.6)
    fig.text(caption_x / w, 1 - caption[1] / h, caption[0], ha='center', va='center',
             family='Liberation Serif', fontsize=17.3, color='black')
    return ax


sns.set_theme(style='whitegrid', palette='colorblind')

fig = plt.figure(figsize=(9.74, 8.7), dpi=100)

draw_panel(fig, (69, 16, 424, 367), clip_angle, angle_labels,
           't-SNE Visualization of CLIP Embeddings for Angle Images', 'Angle Magnitude',
           (-41.1, 55.7), (-51.7, 53.8), [-40, -20, 0, 20, 40], [-40, -20, 0, 20, 40],
           (360, 19), ('(a) Angle clustering by CLIP', 424), 236)
draw_panel(fig, (590, 37, 947, 369), clip_line, line_labels,
           't-SNE Visualization of CLIP Embeddings for Line Images', 'Line Length',
           (-43.7, 39.5), (-46.7, 49.3), [-40, -30, -20, -10, 0, 10, 20, 30], [-40, -20, 0, 20, 40],
           (908, 41), ('(b) Line clustering by CLIP', 424), 759)
draw_panel(fig, (44, 458, 389, 799), siglip_angle, angle_labels,
           't-SNE Visualization of SIGLIP Embeddings for Angle Images', 'Angle Magnitude',
           (-33.2, 39.3), (-54.2, 55.3), [-30, -20, -10, 0, 10, 20, 30], [-40, -20, 0, 20, 40],
           (410, 461), ('(c) Angle clustering by SigLIP', 855), 248)
draw_panel(fig, (536, 459, 901, 799), siglip_line, line_labels,
           't-SNE Visualization of SIGLIP Embeddings for Line Images', 'Line Length',
           (-36.6, 41.3), (-46, 40.7), [-30, -20, -10, 0, 10, 20, 30, 40], [-40, -30, -20, -10, 0, 10, 20, 30, 40],
           (922, 462), ('(d) Line clustering by SigLIP', 855), 739)

fig.savefig('out.png', dpi=100)
